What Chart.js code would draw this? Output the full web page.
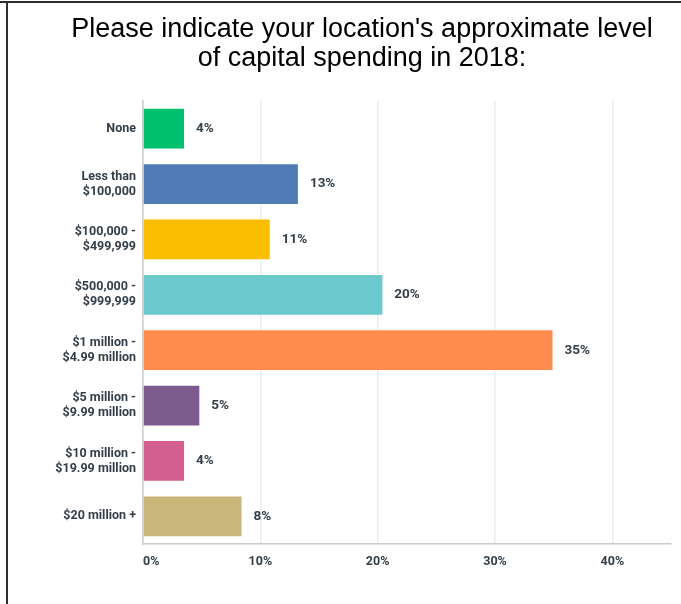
<!DOCTYPE html>
<html>
<head>
<meta charset="utf-8">
<script src="https://cdn.jsdelivr.net/npm/chart.js@4/dist/chart.umd.min.js"></script>
<style>
  html, body { margin: 0; padding: 0; background: #fff; overflow: hidden; }
  #wrap { position: relative; width: 681px; height: 604px; }
  #frameTop { position: absolute; left: 0; top: 1px; width: 681px; height: 2px; background: #2e2e2e; }
  #frameLeft { position: absolute; left: 6px; top: 1px; width: 2px; height: 603px; background: #2e2e2e; }
  #title {
    position: absolute; left: 8px; top: 14px; width: 708px;
    text-align: center; white-space: nowrap;
    font-family: "Liberation Sans", Arial, sans-serif; font-size: 27px; line-height: 29px; color: #000;
  }
  canvas { position: absolute; left: 0; top: 0; }
</style>
</head>
<body>
<div id="wrap">
  <canvas id="chart" width="681" height="604"></canvas>
  <div id="frameTop"></div>
  <div id="frameLeft"></div>
  <div id="title">Please indicate your location's approximate level<br>of capital spending in 2018:</div>
</div>
<script>
// Spending ranges (multi-line labels are split into arrays)
const categories = [
  ['None'],
  ['Less than', '$100,000'],
  ['$100,000 -', '$499,999'],
  ['$500,000 -', '$999,999'],
  ['$1 million -', '$4.99 million'],
  ['$5 million -', '$9.99 million'],
  ['$10 million -', '$19.99 million'],
  ['$20 million +']
];
// Share of respondents, percent
const shares = [3.5, 13.2, 10.8, 20.4, 34.9, 4.8, 3.5, 8.4];
const barColors = ['#00bf6f', '#507cb6', '#f9be00', '#6bc8cd', '#ff8b4f', '#7d5b8f', '#d35f90', '#c9b779'];
const axisTicks = [0, 10, 20, 30, 40];
const axisMax = 45;

const textColor = '#333e48';
const labelFont = { family: 'Roboto, "Open Sans", sans-serif', size: 12.5, weight: 'bold' };

// Writes the rounded percentage to the right of each bar
const valueLabels = {
  id: 'valueLabels',
  afterDatasetsDraw(chart) {
    const ctx = chart.ctx;
    const meta = chart.getDatasetMeta(0);
    ctx.save();
    ctx.font = 'bold 13.5px Roboto, "Open Sans", sans-serif';
    ctx.fillStyle = textColor;
    ctx.textAlign = 'left';
    ctx.textBaseline = 'middle';
    meta.data.forEach((bar, i) => {
      ctx.fillText(Math.round(shares[i]) + '%', bar.x + 12, bar.y);
    });
    ctx.restore();
  }
};

new Chart(document.getElementById('chart'), {
  type: 'bar',
  data: {
    labels: categories,
    datasets: [{
      data: shares,
      backgroundColor: barColors,
      borderWidth: 0,
      barPercentage: 0.72,
      categoryPercentage: 1
    }]
  },
  options: {
    indexAxis: 'y',
    responsive: false,
    animation: false,
    events: [],
    layout: { padding: { top: 101, right: 9, bottom: 0, left: 0 } },
    plugins: {
      legend: { display: false },
      title: { display: false },
      tooltip: { enabled: false }
    },
    scales: {
      x: {
        min: 0,
        max: axisMax,
        afterBuildTicks: (scale) => {
          scale.ticks = axisTicks.concat([axisMax]).map(v => ({ value: v }));
        },
        afterFit: (scale) => { scale.height = 60; },
        grid: {
          drawTicks: false,
          color: (ctx) => (ctx.tick && ctx.tick.value === axisMax) ? 'rgba(0,0,0,0)' : '#ececec',
          lineWidth: 1.5
        },
        border: { color: '#cccccc', width: 1.5 },
        ticks: {
          align: 'inner',
          padding: 10,
          color: textColor,
          font: labelFont,
          callback: (v) => axisTicks.includes(v) ? v + '%' : ''
        }
      },
      y: {
        afterFit: (scale) => { scale.width = 143; },
        grid: { display: false, drawTicks: false },
        border: { color: '#cccccc', width: 1.5 },
        ticks: {
          padding: 7,
          color: textColor,
          font: Object.assign({ lineHeight: 1.2 }, labelFont)
        }
      }
    }
  },
  plugins: [valueLabels]
});
</script>
</body>
</html>
